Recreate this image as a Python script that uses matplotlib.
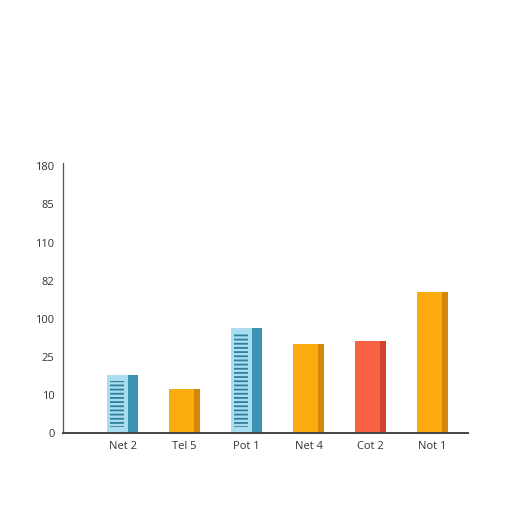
import matplotlib.pyplot as plt
import numpy as np

categories = ["Net 2", "Tel 5", "Pot 1", "Net 4", "Cot 2", "Not 1"]
values = [39, 30, 71, 60, 62, 95]
ytick_labels = ["0", "10", "25", "100", "82", "110", "85", "180"]

# styles per bar: (front, side, striped)
styles = [
    ("#a9def0", "#3b93b3", True),
    ("#fbab0e", "#d5860b", False),
    ("#a9def0", "#3b93b3", True),
    ("#fbab0e", "#d5860b", False),
    ("#f86142", "#cf4330", False),
    ("#fbab0e", "#d5860b", False),
]

plt.rcParams["font.family"] = ["Open Sans", "DejaVu Sans"]
plt.rcParams["hatch.linewidth"] = 1.3

fig = plt.figure(figsize=(5.12, 5.12), dpi=100)
ax = fig.add_axes([0.123, 0.154, 0.791, 0.527])

x = np.arange(len(categories))
width = 0.5
for xi, v, (front, side, striped) in zip(x, values, styles):
    side_w = 0.16 if striped else 0.1
    left = xi - width / 2
    front_w = width - side_w
    ax.bar(left, v, width=front_w, align="edge", color=front, linewidth=0, zorder=2)
    ax.bar(left + front_w, v, width=side_w, align="edge", color=side, linewidth=0, zorder=2)
    if striped:
        ax.bar(left + 0.05, v - 7.5, bottom=4, width=front_w - 0.115, align="edge",
               facecolor="none", edgecolor="#2f7f9e", hatch="----", linewidth=0, zorder=3)

ax.set_xlim(-0.96, 5.57)
ax.set_ylim(0, 182)
ax.set_xticks(x)
ax.set_xticklabels(categories, fontsize=8, color="#333333")
ax.set_yticks(np.linspace(0, 180, len(ytick_labels)))
ax.set_yticklabels(ytick_labels, fontsize=8, color="#333333")
ax.tick_params(length=0)
ax.tick_params(axis="y", pad=6)
ax.tick_params(axis="x", pad=6)

for s in ["top", "right"]:
    ax.spines[s].set_visible(False)
ax.spines["left"].set_color("#555555")
ax.spines["left"].set_linewidth(0.9)
ax.spines["bottom"].set_color("#444444")
ax.spines["bottom"].set_linewidth(1.4)

fig.savefig("out.png", dpi=100, facecolor="white")
